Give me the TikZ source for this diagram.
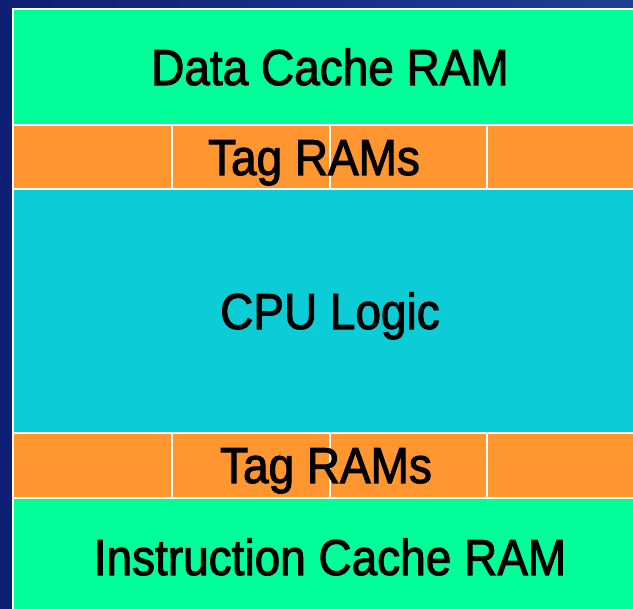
\documentclass[tikz,border=0pt]{standalone}
\usepackage{fontspec}
\setmainfont[FakeStretch=0.91,FakeBold=2]{Liberation Sans}
\definecolor{bgdark}{RGB}{14,32,118}
\definecolor{bglight}{RGB}{30,62,150}
\definecolor{cachegreen}{RGB}{0,255,153}
\definecolor{tagorange}{RGB}{255,150,48}
\definecolor{cpucyan}{RGB}{12,205,214}
\begin{document}
\begin{tikzpicture}[x=1pt,y=-1pt,
   block/.style={draw=white,line width=2pt,inner sep=0pt,outer sep=0pt,
      font=\fontsize{50.5}{60}\selectfont,text height=36pt,text depth=0pt},
   tagcell/.style={block,fill=tagorange,minimum height=64pt}]
   \useasboundingbox (0,0) rectangle (633,609);
   \fill[left color=bgdark,right color=bglight] (0,0) rectangle (633,609);
   \node[block,fill=cachegreen,minimum width=634pt,minimum height=116pt] (dcache) at (330,67) {Data Cache RAM};
   \node[tagcell,minimum width=159pt] (tag1a) at (92.5,157) {};
   \node[tagcell,minimum width=158pt] (tag1b) at (251,157) {};
   \node[tagcell,minimum width=157pt] (tag1c) at (408.5,157) {};
   \node[tagcell,minimum width=160pt] (tag1d) at (567,157) {};
   \node[block,fill=cpucyan,minimum width=634pt,minimum height=244pt] (cpu) at (330,311) {CPU Logic};
   \node[tagcell,minimum width=159pt,minimum height=65pt] (tag2a) at (92.5,465.5) {};
   \node[tagcell,minimum width=158pt,minimum height=65pt] (tag2b) at (251,465.5) {};
   \node[tagcell,minimum width=157pt,minimum height=65pt] (tag2c) at (408.5,465.5) {};
   \node[tagcell,minimum width=160pt,minimum height=65pt] (tag2d) at (567,465.5) {};
   \node[block,fill=cachegreen,minimum width=634pt,minimum height=117pt] (icache) at (330,557) {Instruction Cache RAM};
   \node[block,draw=none] (tag1) at (314,157) {Tag RAMs};
   \node[block,draw=none] (tag2) at (326,465) {Tag RAMs};
\end{tikzpicture}
\end{document}
